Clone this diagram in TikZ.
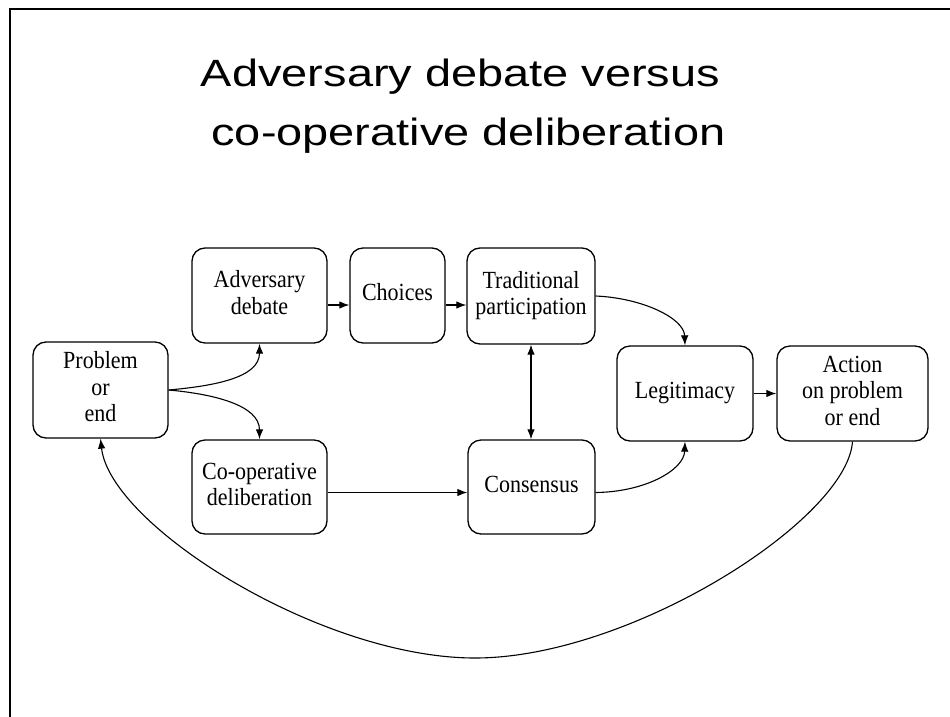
\documentclass[tikz,border=0pt]{standalone}
\usepackage{fontspec}
\usepackage{graphicx}
\setmainfont{Liberation Serif}
\newfontfamily\titlefont{Liberation Sans}
\usetikzlibrary{arrows.meta}

% box label: centred lines, slightly tall letters
\newcommand\boxlabel[1]{\scalebox{1}[1.12]{\begin{tabular}{@{}c@{}}#1\end{tabular}}}
% heading line: wide sans letters
\newcommand\headline[1]{\scalebox{1.235}[1]{\titlefont\fontsize{38}{40}\selectfont #1}}

\tikzset{
  stage/.style={draw=black, line width=1.3pt, rounded corners=13pt, inner sep=0pt,
    font=\fontsize{22}{23.7}\selectfont, text=black},
  flow/.style={draw=black, line width=1.1pt, -{Latex[length=10pt,width=7.5pt]}},
  twoway/.style={draw=black, line width=1.1pt, {Latex[length=10pt,width=7.5pt]}-{Latex[length=10pt,width=7.5pt]}},
  frameline/.style={draw=black, line width=1.5pt}
}

\begin{document}
\begin{tikzpicture}[x=1pt, y=-1pt]
\useasboundingbox (0,0) rectangle (950,717);
\fill[white] (0,0) rectangle (950,717);

% page frame (left and top edges)
\draw[frameline] (10,717) -- (10,9) -- (950,9);

% heading
\node[anchor=base, inner sep=0pt] (head1) at (460.5,86) {\headline{Adversary debate versus}};
\node[anchor=base, inner sep=0pt] (head2) at (468.5,145) {\headline{co-operative deliberation}};

% stages
\node[stage, minimum width=135pt, minimum height=96pt] (prob)  at (100.5,390)  {\boxlabel{Problem\\or\\end}};
\node[stage, minimum width=135pt, minimum height=95pt] (adv)   at (259.5,295.5) {\boxlabel{Adversary\\debate}};
\node[stage, minimum width=95pt,  minimum height=95pt] (cho)   at (397.5,295.5) {\boxlabel{Choices}};
\node[stage, minimum width=128pt, minimum height=96pt] (trad)  at (531,296)    {\boxlabel{Traditional\\participation}};
\node[stage, minimum width=136pt, minimum height=95pt] (legit) at (685,393.5)  {\boxlabel{Legitimacy}};
\node[stage, minimum width=151pt, minimum height=95pt] (act)   at (852.5,393.5) {\boxlabel{Action\\on problem\\or end}};
\node[stage, minimum width=135pt, minimum height=94pt] (coop)  at (259.5,487)  {\boxlabel{Co-operative\\deliberation}};
\node[stage, minimum width=127pt, minimum height=94pt] (cons)  at (531.5,487)  {\boxlabel{Consensus}};

% lowest point of the return loop
\coordinate (loopbottom) at (475,658);

% connectors
\draw[flow] (prob.east) .. controls (213,386) and (259.5,378) .. (adv.south);
\draw[flow] (prob.east) .. controls (213,394) and (259.5,405) .. (coop.north);
\draw[flow] ([yshift=-9.5pt]adv.east) -- ([yshift=-9.5pt]cho.west);
\draw[flow] ([yshift=-9.5pt]cho.east) -- ([yshift=-9pt]trad.west);
\draw[flow] (trad.east) .. controls (642,298) and (684,318) .. (legit.north);
\draw[flow] ([yshift=-5.5pt]cons.east) .. controls (645,492) and (684,470) .. (legit.south);
\draw[flow] ([yshift=-5.5pt]coop.east) -- ([yshift=-5.5pt]cons.west);
\draw[twoway] (trad.south) -- (trad.south |- cons.north);
\draw[flow] (legit.east) -- (act.west);
\draw[flow] (act.south) .. controls (847,520) and (630,658) .. (loopbottom)
                        .. controls (320,658) and (110,525) .. (prob.south);
\end{tikzpicture}
\end{document}
